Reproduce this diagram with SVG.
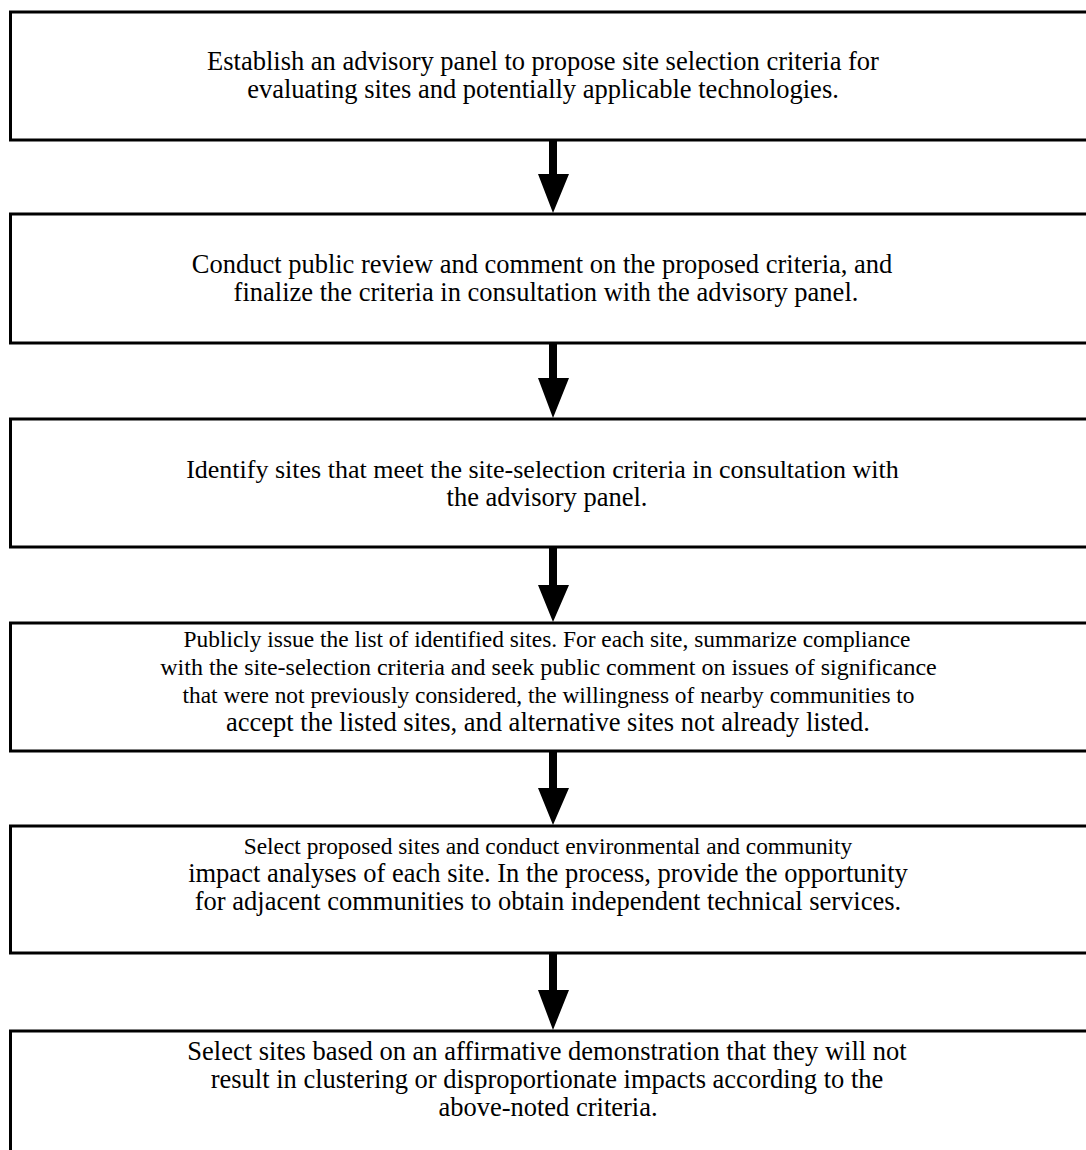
<svg xmlns="http://www.w3.org/2000/svg" width="1086" height="1150" viewBox="0 0 1086 1150">
<style>
.box{fill:#fff;stroke:#000;stroke-width:3}
.t{font-family:"Liberation Serif","Times New Roman",serif;font-size:26.5px;fill:#000;text-anchor:middle}
.arr{fill:#000;stroke:none}
</style>
<rect width="1086" height="1150" fill="#fff"/>
<g id="node1"><rect class="box" x="10.5" y="12" width="1100" height="128"/>
<text class="t" x="543" y="70">Establish an advisory panel to propose site selection criteria for</text>
<text class="t" x="543" y="98">evaluating sites and potentially applicable technologies.</text></g>
<g id="node2"><rect class="box" x="10.5" y="214" width="1100" height="129"/>
<text class="t" x="542" y="273">Conduct public review and comment on the proposed criteria, and</text>
<text class="t" x="546" y="301">finalize the criteria in consultation with the advisory panel.</text></g>
<g id="node3"><rect class="box" x="10.5" y="419" width="1100" height="128"/>
<text class="t" x="542.5" y="478" style="font-size:26px">Identify sites that meet the site-selection criteria in consultation with</text>
<text class="t" x="547" y="506">the advisory panel.</text></g>
<g id="node4"><rect class="box" x="10.5" y="623" width="1100" height="128"/>
<text class="t" x="547" y="647" style="font-size:23.4px">Publicly issue the list of identified sites. For each site, summarize compliance</text>
<text class="t" x="548.5" y="675" style="font-size:24px">with the site-selection criteria and seek public comment on issues of significance</text>
<text class="t" x="548.5" y="703" style="font-size:23.4px">that were not previously considered, the willingness of nearby communities to</text>
<text class="t" x="548" y="731">accept the listed sites, and alternative sites not already listed.</text></g>
<g id="node5"><rect class="box" x="10.5" y="826" width="1100" height="127"/>
<text class="t" x="548" y="854" style="font-size:23.4px">Select proposed sites and conduct environmental and community</text>
<text class="t" x="548" y="882">impact analyses of each site. In the process, provide the opportunity</text>
<text class="t" x="548" y="910">for adjacent communities to obtain independent technical services.</text></g>
<g id="node6"><rect class="box" x="10.5" y="1031" width="1100" height="140"/>
<text class="t" x="547" y="1060">Select sites based on an affirmative demonstration that they will not</text>
<text class="t" x="547" y="1088">result in clustering or disproportionate impacts according to the</text>
<text class="t" x="548" y="1116">above-noted criteria.</text></g>
<g id="connectors">
<polygon class="arr" points="549,141 557,141 557,174 569,174 553,213 538,174 549,174"/>
<polygon class="arr" points="549,344 557,344 557,378 569,378 553,418 538,378 549,378"/>
<polygon class="arr" points="549,548 557,548 557,585 569,585 553,622 538,585 549,585"/>
<polygon class="arr" points="549,752 557,752 557,788 569,788 553,825 538,788 549,788"/>
<polygon class="arr" points="549,954 557,954 557,990 569,990 553,1030 538,990 549,990"/>
</g>
</svg>
